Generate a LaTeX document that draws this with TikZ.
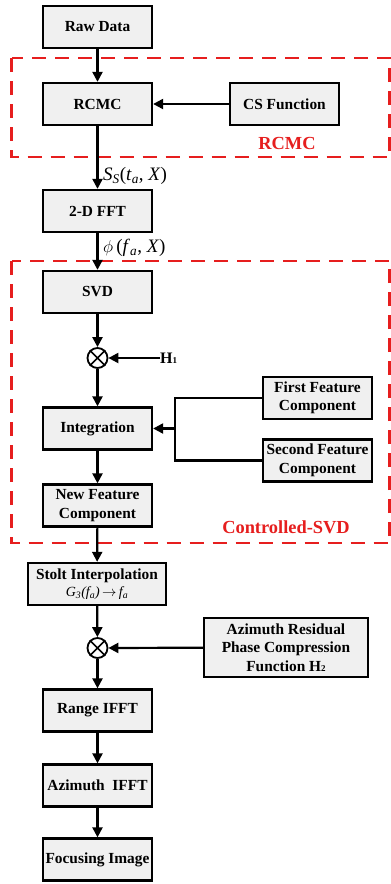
\documentclass[tikz,border=0pt]{standalone}
\usepackage{fontspec}
\setmainfont{Liberation Serif}
\usetikzlibrary{arrows.meta}
\definecolor{boxgray}{RGB}{240,240,240}
\definecolor{dashred}{RGB}{230,30,30}
\begin{document}
\begin{tikzpicture}[x=1pt,y=-1pt,
  box/.style={draw=black,line width=2.3pt,fill=boxgray,
    font=\fontsize{15.4}{18.5}\selectfont\bfseries,align=center,
    inner sep=0pt,minimum width=109pt,minimum height=42pt},
  arr/.style={line width=2.2pt,-{Triangle[length=10pt,width=10pt]}},
  conn/.style={line width=2.2pt},
  region/.style={draw=dashred,line width=2.5pt,dash pattern=on 14pt off 9pt},
  regionlabel/.style={text=dashred,font=\fontsize{18.4}{20}\selectfont\bfseries},
  mult/.style={circle,draw=black,line width=1.8pt,fill=white,minimum size=20pt,inner sep=0pt},
  mathlabel/.style={anchor=west,inner sep=0pt,font=\fontsize{19}{21}\selectfont}
]
\useasboundingbox (0,0) rectangle (391,884);
\fill[white] (0,0) rectangle (391,884);

% dashed regions
\draw[region] (11.5,58) rectangle (389.5,157);
\draw[region] (11.5,261) rectangle (389.5,543);
\node[regionlabel] (lrcmc) at (287,143) {RCMC};
\node[regionlabel] (lcsvd) at (286,527) {Controlled-SVD};

% boxes
\node[box] (raw) at (97.5,27) {Raw Data};
\node[box] (rcmc) at (97.5,104) {RCMC};
\node[box] (cs) at (284.5,104) {CS Function};
\node[box] (fft) at (97.5,211) {2-D FFT};
\node[box] (svd) at (97.5,292) {SVD};
\node[mult] (ot1) at (97.5,358) {};
\node[anchor=west,inner sep=0pt,font=\fontsize{16}{18}\selectfont\bfseries] (h1) at (160,358) {H{\fontsize{9}{10}\selectfont 1}};
\node[box] (first) at (317.5,398) {First Feature\\Component};
\node[box] (integ) at (97.5,428.5) {Integration};
\node[box] (second) at (317.5,460.5) {Second Feature\\Component};
\node[box] (newf) at (97.5,505.5) {New Feature\\Component};
\node[box,minimum width=138pt] (stolt) at (97,584) {Stolt Interpolation\\[-1pt]{\fontsize{14}{15}\selectfont\mdseries\itshape G\textsubscript{3}(f\textsubscript{a})\,$\rightarrow$\,f\textsubscript{a}}};
\node[mult] (ot2) at (97.5,648) {};
\node[box,minimum width=164pt,minimum height=59pt] (azres) at (286,647.5) {Azimuth Residual\\Phase Compression\\Function H{\fontsize{9}{10}\selectfont 2}};
\node[box] (range) at (97.5,710.5) {Range IFFT};
\node[box] (aziff) at (97.5,785.5) {Azimuth\ \ IFFT};
\node[box] (focus) at (97.5,859.5) {Focusing Image};

% multiplier crosses
\draw[line width=1.6pt] (ot1.north west) -- (ot1.south east) (ot1.north east) -- (ot1.south west);
\draw[line width=1.6pt] (ot2.north west) -- (ot2.south east) (ot2.north east) -- (ot2.south west);

% signal labels
\node[mathlabel] (ls) at (103,176) {\textit{S}\textsubscript{\textit{S}}(\textit{t}\textsubscript{\textit{a}}, \textit{X})};
\node[mathlabel] (lphi) at (103,248) {$\phi$\,(\textit{f}\textsubscript{\textit{a}}, \textit{X})};

% connectors
\draw[arr] (raw) -- (rcmc);
\draw[arr] (cs) -- (rcmc);
\draw[arr] (rcmc) -- (fft);
\draw[arr] (fft) -- (svd);
\draw[arr] (svd) -- (ot1);
\draw[arr] (h1.west) -- (ot1);
\draw[arr] (ot1) -- (integ);
\coordinate (junc) at (175,428.5);
\draw[conn] (first.west) -| (junc) |- (second.west);
\draw[arr] (junc) -- (integ.east);
\draw[arr] (integ) -- (newf);
\draw[arr] (newf) -- (stolt);
\draw[arr] (stolt) -- (ot2);
\draw[arr] (azres) -- (ot2);
\draw[arr] (ot2) -- (range);
\draw[arr] (range) -- (aziff);
\draw[arr] (aziff) -- (focus);
\end{tikzpicture}
\end{document}
